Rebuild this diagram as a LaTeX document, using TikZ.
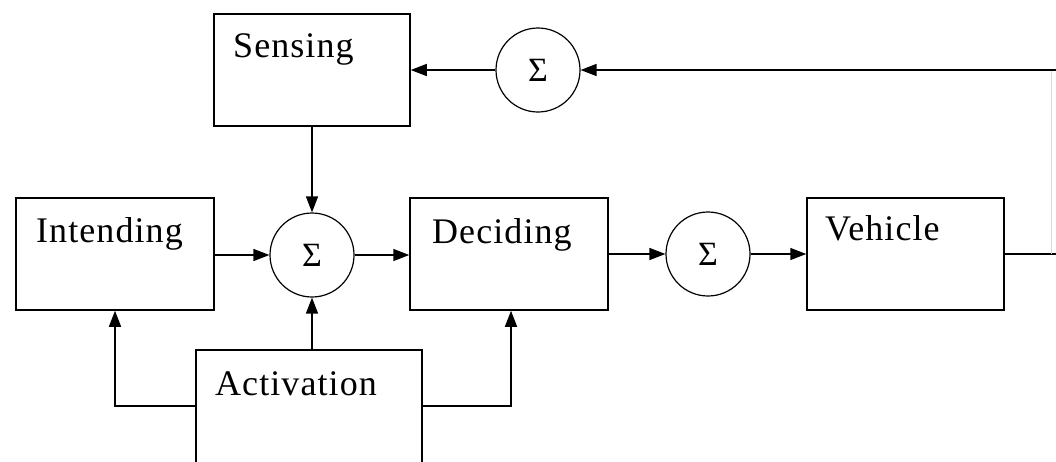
\documentclass[tikz,border=0pt]{standalone}
\usepackage{fontspec}
\setmainfont{Liberation Serif}
\newfontfamily\spaced[LetterSpace=3]{Liberation Serif}
\usetikzlibrary{arrows.meta}
\begin{document}
\begin{tikzpicture}[x=1pt,y=-1pt,
  blk/.style={draw, line width=1.5pt, rectangle, inner sep=0pt, minimum width=198pt, minimum height=112pt},
  sumnode/.style={draw, line width=1.2pt, circle, inner sep=0pt, minimum size=84pt, font=\fontsize{34}{34}\selectfont},
  lbl/.style={anchor=base west, inner sep=0pt, font=\spaced\fontsize{36}{36}\selectfont},
  conn/.style={line width=1.5pt},
  arr/.style={conn, -{Triangle[length=16pt,width=12pt]}}]
\useasboundingbox (0,0) rectangle (1056,461);
\clip (0,0) rectangle (1056,461);
% blocks
\node[blk, minimum width=196pt] (sens) at (312,70) {};
\node[blk] (intd) at (115,254) {};
\node[blk] (decd) at (509,254) {};
\node[blk, minimum width=197pt] (veh) at (905.5,254) {};
\node[blk, minimum width=226pt, minimum height=140pt] (act) at (309,420) {};
% labels
\node[lbl] (tsens) at (233,57) {Sensing};
\node[lbl] (tintd) at (36,242) {Intending};
\node[lbl] (tdecd) at (432,243) {Deciding};
\node[lbl] (tveh) at (825,240) {Vehicle};
\node[lbl] (tact) at (215,395) {Activation};
% summing junctions
\node[sumnode] (s1) at (538,70) {\raisebox{-5pt}{Σ}};
\node[sumnode] (s2) at (312,255) {\raisebox{-5pt}{Σ}};
\node[sumnode] (s3) at (708,254) {\raisebox{-5pt}{Σ}};
% helper coordinates
\coordinate (al) at (196,406);
\coordinate (ar) at (422,406);
\coordinate (rb) at (1051,254);
\coordinate (rt) at (1051,70);
\coordinate (re) at (1056,70);
% connectors
\draw[arr] (intd.east |- s2) -- (s2.west);
\draw[arr] (s2.east) -- (decd.west |- s2);
\draw[arr] (decd.east |- s3) -- (s3.west);
\draw[arr] (s3.east) -- (veh.west |- s3);
\draw[arr] (sens.south) -- (s2.north);
\draw[arr] (act.north -| s2) -- (s2.south);
\draw[arr] (al) -| (intd.south);
\draw[arr] (ar) -| ([xshift=2pt]decd.south);
\draw[conn] (veh.east) -- (re |- veh.east);
\draw[line width=0.6pt, black!15] (rb) -- (rt);
\draw[arr] (re) -- (s1.east);
\draw[arr] (s1.west) -- (sens.east);
\end{tikzpicture}
\end{document}
